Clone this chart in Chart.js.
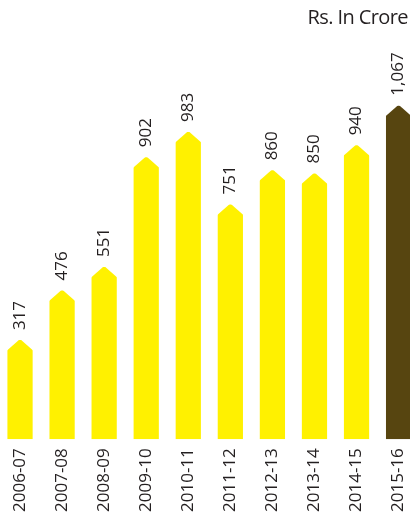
<!DOCTYPE html>
<html>
<head>
<meta charset="utf-8">
<script src="https://cdn.jsdelivr.net/npm/chart.js@4/dist/chart.umd.min.js"></script>
<style>
  html, body { margin: 0; padding: 0; background: #fff; overflow: hidden; }
  #wrap { position: absolute; left: -1px; top: 0; width: 429px; height: 523px; }
  #unit { position: absolute; right: 2px; top: 3px; font: 20px "Open Sans", sans-serif; color: #231f20; letter-spacing: -0.6px; }
</style>
</head>
<body>
<div id="wrap"><canvas id="earnings"></canvas></div>
<div id="unit">Rs. In Crore</div>
<script>
const years = ["2006-07", "2007-08", "2008-09", "2009-10", "2010-11", "2011-12", "2012-13", "2013-14", "2014-15", "2015-16"];
const profit = [317, 476, 551, 902, 983, 751, 860, 850, 940, 1067];
const barColors = ["#fff100", "#fff100", "#fff100", "#fff100", "#fff100", "#fff100", "#fff100", "#fff100", "#fff100", "#574510"];

// pointed tops + rotated value labels
const arrowTops = {
  id: "arrowTops",
  afterDatasetsDraw(chart) {
    const c = chart.ctx;
    const meta = chart.getDatasetMeta(0);
    meta.data.forEach((bar, i) => {
      const half = bar.width / 2;
      const tip = 11;
      c.save();
      c.fillStyle = "#fff";
      c.beginPath();
      c.moveTo(bar.x - half - 1, bar.y - 1);
      c.lineTo(bar.x, bar.y - 1);
      c.lineTo(bar.x - half - 1, bar.y + tip);
      c.closePath();
      c.fill();
      c.beginPath();
      c.moveTo(bar.x + half + 1, bar.y - 1);
      c.lineTo(bar.x, bar.y - 1);
      c.lineTo(bar.x + half + 1, bar.y + tip);
      c.closePath();
      c.fill();

      c.translate(bar.x, bar.y - 10);
      c.rotate(-Math.PI / 2);
      c.fillStyle = "#231f20";
      c.font = '17px "Open Sans", sans-serif';
      c.textAlign = "left";
      c.textBaseline = "middle";
      c.fillText(profit[i].toLocaleString("en-US"), 0, 0);
      c.restore();
    });
  }
};

new Chart(document.getElementById("earnings"), {
  type: "bar",
  data: {
    labels: years,
    datasets: [{
      data: profit,
      backgroundColor: barColors,
      categoryPercentage: 1,
      barPercentage: 0.6
    }]
  },
  options: {
    responsive: true,
    maintainAspectRatio: false,
    animation: false,
    layout: { padding: { top: 0, bottom: 2, left: 0, right: 0 } },
    plugins: { legend: { display: false }, tooltip: { enabled: false } },
    scales: {
      x: {
        grid: { display: false, drawTicks: false },
        border: { display: false },
        ticks: {
          minRotation: 90,
          maxRotation: 90,
          padding: 9,
          color: "#231f20",
          font: { family: "Open Sans", size: 17 }
        }
      },
      y: { display: false, min: 0, max: 1405 }
    }
  },
  plugins: [arrowTops]
});
</script>
</body>
</html>
